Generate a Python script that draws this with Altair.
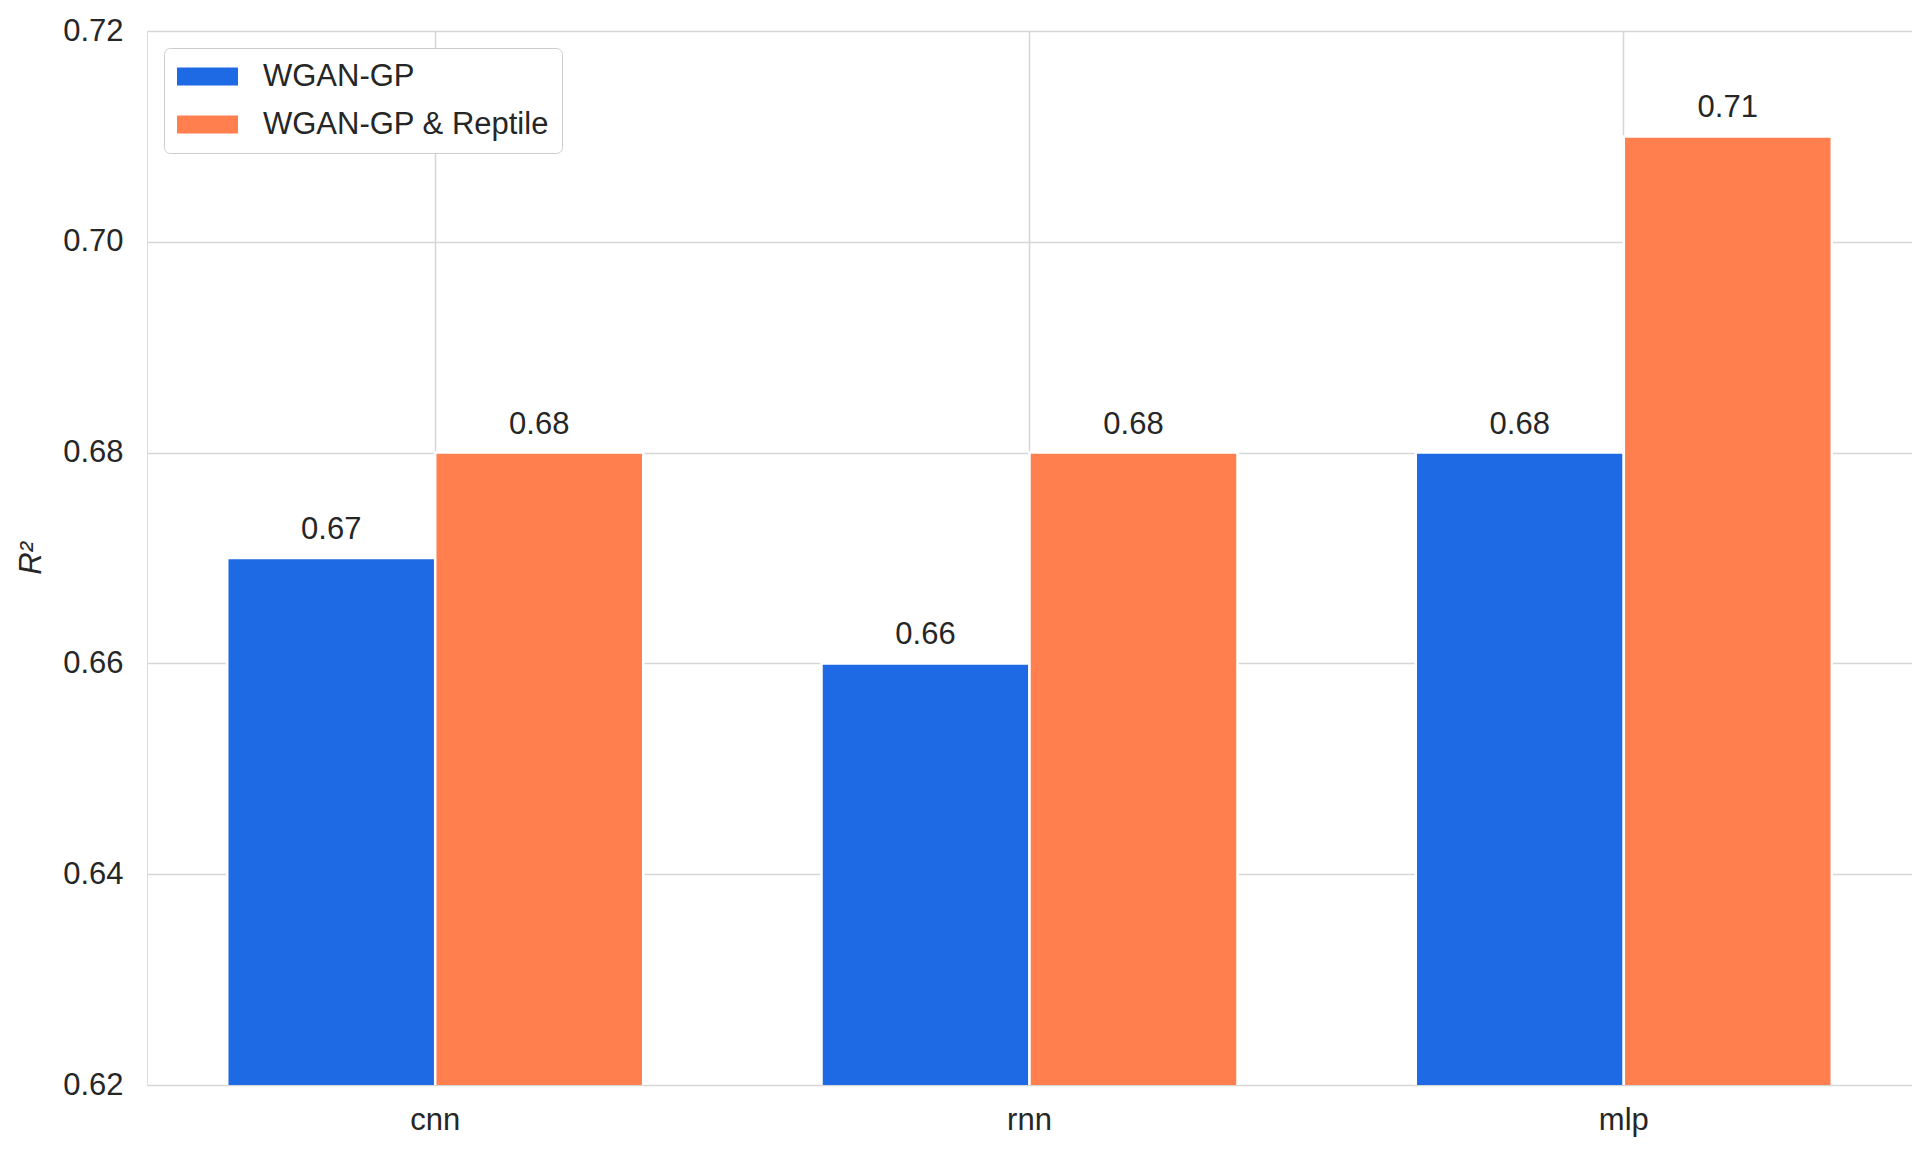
import altair as alt
import pandas as pd

models = ["cnn", "rnn", "mlp"]
series = ["WGAN-GP", "WGAN-GP & Reptile"]
wgan_gp = [0.67, 0.66, 0.68]
wgan_gp_reptile = [0.68, 0.68, 0.71]
y_ticks = [0.62, 0.64, 0.66, 0.68, 0.70, 0.72]
colors = ["#1e69e4", "#ff7f4e"]

rows = []
for m, a, b in zip(models, wgan_gp, wgan_gp_reptile):
    rows.append({"model": m, "series": series[0], "value": a})
    rows.append({"model": m, "series": series[1], "value": b})
df = pd.DataFrame(rows)

FONT = "Liberation Sans"
TXT = "#262626"
FS = 31

x = alt.X("model:N", sort=models, title=None,
          scale=alt.Scale(paddingInner=0.3, paddingOuter=0.135),
          axis=alt.Axis(labelAngle=0, ticks=False, domain=False, bandPosition=0.5,
                        grid=True, gridColor="#d6d6d6", gridWidth=1.5,
                        labelFontSize=FS, labelColor=TXT, labelFont=FONT, labelPadding=20))
y = alt.Y("value:Q", title="R²",
          scale=alt.Scale(domain=[0.62, 0.72], nice=False, zero=False),
          axis=alt.Axis(values=y_ticks, format=".2f", ticks=False, domain=False,
                        grid=True, gridColor="#d6d6d6", gridWidth=1.5,
                        labelFontSize=FS, labelColor=TXT, labelFont=FONT, labelPadding=24,
                        titleFontSize=FS, titleColor=TXT, titleFont=FONT,
                        titleFontStyle="italic", titleFontWeight="normal", titlePadding=15))
xo = alt.XOffset("series:N", sort=series, scale=alt.Scale(paddingInner=0.0))

base = alt.Chart(df).encode(x=x, xOffset=xo)

bars = base.mark_bar(stroke="white", strokeWidth=2.5, clip=True).encode(
    y=y,
    color=alt.Color("series:N", sort=series,
                    scale=alt.Scale(domain=series, range=colors),
                    legend=alt.Legend(title=None, orient="top-left", offset=17,
                                      symbolType="M-2,-0.59H2V0.59H-2Z", symbolSize=930,
                                      symbolStrokeWidth=0, symbolOpacity=1, symbolOffset=15,
                                      labelFontSize=FS, labelFont=FONT, labelColor=TXT,
                                      labelLimit=700, labelOffset=40,
                                      strokeColor="#cccccc", fillColor="white",
                                      cornerRadius=6, padding=13, rowPadding=16)),
)

labels = base.mark_text(baseline="alphabetic", dy=-19, fontSize=FS, font=FONT, color=TXT).encode(
    y=alt.Y("value:Q", scale=alt.Scale(domain=[0.62, 0.72], nice=False, zero=False)),
    text=alt.Text("value:Q", format=".2f"),
)

chart = (bars + labels).properties(
    width=1765, height=1054,
    autosize=alt.AutoSizeParams(type="none"),
    padding={"left": 139, "top": 23, "right": 0, "bottom": 60},
).configure_view(stroke="#cccccc", strokeWidth=2).configure(background="white")

chart.save("out.html", embed_options={"renderer": "svg", "actions": False})
